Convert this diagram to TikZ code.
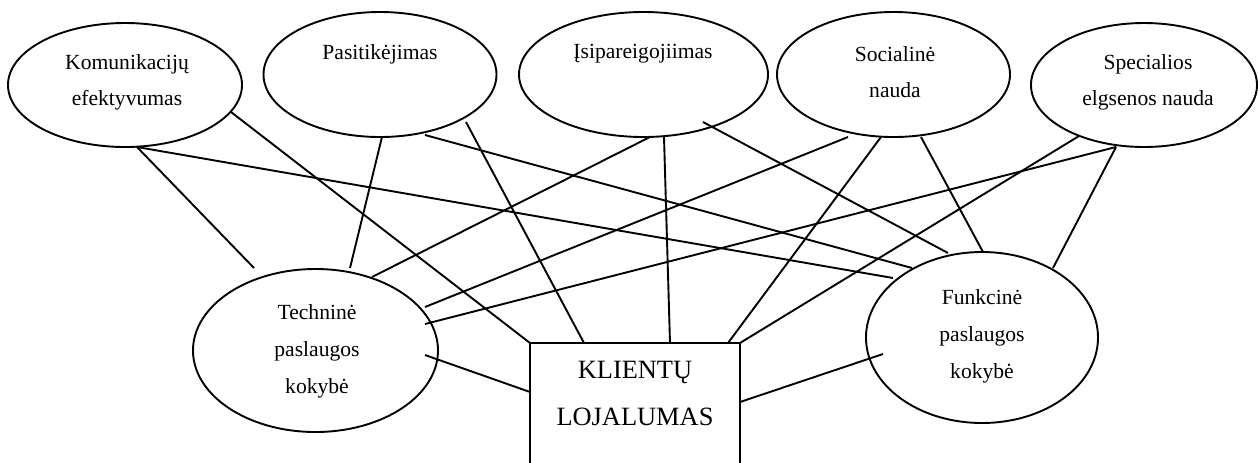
\documentclass[tikz,border=0pt]{standalone}
\usepackage{fontspec}
\setmainfont{Liberation Serif}
\usetikzlibrary{shapes.geometric}

\begin{document}
\begin{tikzpicture}[x=0.5pt,y=-0.5pt,
  oval/.style={draw, ellipse, line width=0.95pt, inner sep=0pt, outer sep=0pt},
  frame/.style={draw, rectangle, line width=0.95pt, inner sep=0pt, outer sep=0pt},
  txt/.style={font=\fontsize{10.8}{18}\selectfont, align=center, inner sep=0pt},
  txtb/.style={font=\fontsize{10.8}{18.5}\selectfont, align=center, inner sep=0pt},
  bigtxt/.style={font=\fontsize{13.2}{23.5}\selectfont, align=center, inner sep=0pt},
  link/.style={line width=0.95pt}]

\useasboundingbox (0,0) rectangle (1258,462);

% ---- factor ellipses (top row)
\node[oval, minimum width=117pt,   minimum height=62pt]   (komm)  at (125,85)    {};
\node[oval, minimum width=116.5pt, minimum height=62.5pt] (pasit) at (380,74.5)  {};
\node[oval, minimum width=124.5pt, minimum height=62.5pt] (isip)  at (643.5,74.5){};
\node[oval, minimum width=116.5pt, minimum height=62.5pt] (soc)   at (893.5,74.5){};
\node[oval, minimum width=113pt,   minimum height=62pt]   (spec)  at (1144,85)   {};

% ---- quality ellipses and the loyalty box
\node[oval, minimum width=122.5pt, minimum height=81.5pt] (tech) at (315.5,350.5) {};
\node[oval, minimum width=116pt,   minimum height=85.5pt] (funk) at (982,337.5)   {};
\node[frame, minimum width=105pt, minimum height=70pt] (loy) at (635,413) {};

% ---- labels
\node[txt] (komm-t)  at (127,82)   {Komunikacijų\\efektyvumas};
\node[txt] (pasit-t) at (380,54)   {Pasitikėjimas};
\node[txt] (isip-t)  at (643,54)   {Įsipareigojiimas};
\node[txt] (soc-t)   at (895,72.5) {Socialinė\\nauda};
\node[txt] (spec-t)  at (1148,82)  {Specialios\\elgsenos nauda};
\node[txtb] (tech-t) at (317,351.5) {Techninė\\paslaugos\\kokybė};
\node[txtb] (funk-t) at (982,336.5) {Funkcinė\\paslaugos\\kokybė};
\node[bigtxt] (loy-t) at (635,393) {KLIENTŲ\\LOJALUMAS};

% ---- line ends on the factor ellipses
\coordinate (k1) at (231,112);
\coordinate (k2) at (137,147);
\coordinate (p1) at (382,137);
\coordinate (p2) at (466,122);
\coordinate (p3) at (425,135);
\coordinate (i1) at (703,122);
\coordinate (i2) at (650,137);
\coordinate (i3) at (664,137);
\coordinate (s1) at (848,137);
\coordinate (s2) at (881,137);
\coordinate (s3) at (921,137);
\coordinate (e1) at (1079,136);
\coordinate (e2) at (1116,147);

% ---- line ends on the quality ellipses
\coordinate (t1) at (254,268);
\coordinate (t2) at (350,268);
\coordinate (t3) at (372,277);
\coordinate (t4) at (425,307);
\coordinate (t5) at (425,324);
\coordinate (t6) at (425,355);
\coordinate (f1) at (893,278);
\coordinate (f2) at (912,268);
\coordinate (f3) at (948,253);
\coordinate (f4) at (983,252);
\coordinate (f5) at (1053,268);
\coordinate (f6) at (883,354);

% ---- line ends on the loyalty box
\coordinate (b1) at (584,343);
\coordinate (b2) at (670,343);
\coordinate (b3) at (728,343);
\coordinate (b4) at (530,392);
\coordinate (b5) at (740,402);

% ---- connectors
\draw[link] (k1) -- (loy.north west);
\draw[link] (k2) -- (f1);
\draw[link] (k2) -- (t1);
\draw[link] (p1) -- (t2);
\draw[link] (p2) -- (b1);
\draw[link] (p3) -- (f2);
\draw[link] (i1) -- (f3);
\draw[link] (i2) -- (t3);
\draw[link] (i3) -- (b2);
\draw[link] (s1) -- (t4);
\draw[link] (s2) -- (b3);
\draw[link] (s3) -- (f4);
\draw[link] (e1) -- (loy.north east);
\draw[link] (e2) -- (t5);
\draw[link] (e2) -- (f5);
\draw[link] (t6) -- (b4);
\draw[link] (b5) -- (f6);
\end{tikzpicture}
\end{document}
